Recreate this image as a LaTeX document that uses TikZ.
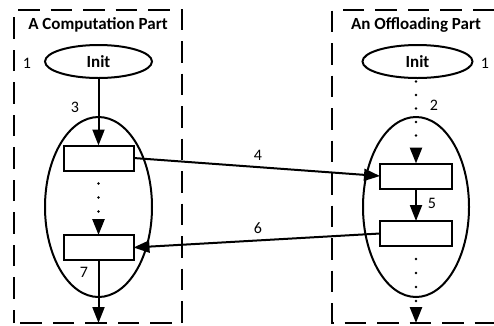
\documentclass[tikz,border=0pt]{standalone}
\usepackage{fontspec}
\setmainfont{Carlito}
\usetikzlibrary{arrows.meta,shapes.geometric}
\begin{document}
\begin{tikzpicture}[x=1pt,y=-1pt,
  every node/.style={inner sep=0pt,outer sep=0pt},
  partframe/.style={line width=2.4pt,dash pattern=on 21.5pt off 11pt},
  parttitle/.style={font=\fontsize{17}{19}\selectfont\bfseries},
  initnode/.style={ellipse,draw,line width=2pt,font=\fontsize{17}{19}\selectfont\bfseries,minimum height=33pt},
  loopnode/.style={ellipse,draw,line width=2pt,minimum height=180pt},
  stepbox/.style={rectangle,draw,line width=2pt,minimum width=70pt,minimum height=25pt},
  num/.style={font=\fontsize{16}{18}\selectfont},
  flow/.style={line width=2pt,-{Triangle[length=16pt,width=12pt]}},
  dotflow/.style={flow,line cap=round,line width=2.6pt,dash pattern=on 0pt off 14pt,dash phase=1pt},
]
\useasboundingbox (0,0) rectangle (494,325);

% frames of the two parts
\draw[partframe,dash phase=8pt] (14,323) -- (14,10) -- (182,10) -- (182,323) -- cycle;
\draw[partframe,dash phase=0pt] (494,10) -- (332,10) -- (332,323) -- (494,323);

\node[parttitle] (titleL) at (98,25) {A Computation Part};
\node[parttitle] (titleR) at (416,25) {An Offloading Part};

% computation part
\node[initnode,minimum width=107pt] (initL) at (98.5,61.5) {Init};
\node[num] (n1L) at (27,63) {1};
\node[loopnode,minimum width=107pt] (loopL) at (98.5,207) {};
\node[stepbox] (boxA) at (98.5,158) {};
\node[stepbox] (boxB) at (98.5,247.5) {};
\coordinate (endL) at (98.5,323);
\node[num] (n3) at (75,107) {3};
\node[num] (n7) at (84,272) {7};

\draw[flow] (initL) -- (boxA);
\draw[dotflow] (boxA) -- (boxB);
\draw[flow] (boxB) -- (endL);

% offloading part
\node[initnode,minimum width=110pt] (initR) at (417.5,61.5) {Init};
\node[num] (n1R) at (485,63) {1};
\node[loopnode,minimum width=106pt] (loopR) at (416,207) {};
\node[stepbox,minimum width=72pt] (boxC) at (416,176) {};
\node[stepbox,minimum width=72pt] (boxD) at (416,233.5) {};
\coordinate (endR) at (416,323);
\node[num] (n2) at (434,105) {2};
\node[num] (n5) at (432,203) {5};

\draw[dotflow,dash pattern=on 0pt off 13.5pt,dash phase=10pt] (initR.south -| boxC.north) -- (boxC.north);
\draw[flow] (boxC) -- (boxD);
\draw[dotflow] (boxD) -- (endR);

% messages between the parts
\draw[flow] (boxA.east) -- (boxC.west);
\node[num] (n4) at (258,155) {4};
\draw[flow] (boxD.west) -- (boxB.east);
\node[num] (n6) at (258,228) {6};
\end{tikzpicture}
\end{document}
